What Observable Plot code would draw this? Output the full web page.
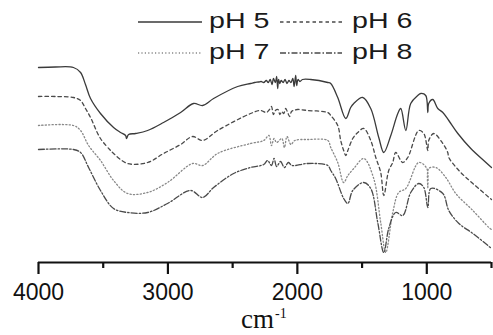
<!DOCTYPE html>
<html>
<head>
<meta charset="utf-8">
<script src="https://cdn.jsdelivr.net/npm/d3@7"></script>
<script src="https://cdn.jsdelivr.net/npm/@observablehq/plot@0.6"></script>
<style>
  html, body { margin: 0; padding: 0; background: #fff; }
  #wrap { width: 493px; height: 335px; position: relative; overflow: hidden; }
  #legend { position: relative; height: 62px; font-family: "Liberation Sans", Arial, sans-serif; font-size: 22px; color: #1a1a1a; }
  #legend .sw { position: absolute; }
  #legend .lb { position: absolute; line-height: 1; white-space: nowrap; transform: scaleX(1.3); transform-origin: 0 50%; }
  #caption { position: absolute; left: 241px; top: 306px; font-family: "Liberation Serif", "Times New Roman", serif; font-size: 27px; line-height: 27px; color: #111; white-space: nowrap; }
  #caption sup { font-size: 14px; line-height: 14px; vertical-align: 0; position: relative; top: -10px; left: 1px; }
</style>
</head>
<body>
<div id="wrap">
  <div id="legend"></div>
  <div id="chart"></div>
  <div id="caption">cm<sup>-1</sup></div>
</div>
<script>
// Wavenumber (cm^-1) and transmittance (arbitrary units)
const series = ["pH 5", "pH 6", "pH 7", "pH 8"];

const wnPH5 = [4000,3870,3730,3675,3637,3598,3521,3420,3366,3327,3320,3304,3250,3157,3034,2902,2802,2732,2647,2461,2361,2330,2300,2280,2260,2240,2225,2210,2195,2185,2170,2160,2152,2145,2135,2125,2110,2095,2080,2065,2050,2035,2025,2013,2005,1995,1980,1960,1897,1765,1742,1688,1626,1588,1564,1495,1433,1371,1332,1278,1224,1201,1162,1124,1070,1046,1008,992,985,954,915,876,830,760,660,560,500];
const tPH5 = [195,195.5,195,190,178,164,149,135,130,127,124,128,129,132,140,150,159,157,164,176,179,180,180.5,181,180,182,180,183,178,184,180,186,174,183,179,182,180,183,179,182,180,184,176,187,177,183,181,183,183,180,179,165,144,155,159,165,154,125,110,127,149,154,132,159,167,169,167,150,159,163,154,150,142,129,114,102,95];

const wnPH6 = [4000,3870,3730,3675,3637,3598,3521,3443,3420,3312,3157,3034,2902,2809,2732,2616,2361,2284,2240,2215,2200,2185,2170,2150,2135,2120,2105,2090,2075,2060,2045,2030,2000,1920,1765,1742,1688,1665,1642,1626,1610,1572,1533,1487,1433,1394,1356,1332,1294,1263,1240,1186,1147,1062,1023,992,985,946,876,838,830,752,644,500];
const tPH6 = [166,166,165,162,154,145,124,112,109,99,100,109,118,126,122,132,149,152,150,153,156,148,152,153,148,151,149,154,150,146,151,152,153,152,150,147,137,122,112,107,112,124,130,134,122,105,90,67,92,100,110,100,105,132,129,112,122,129,119,110,105,92,79,63];

const wnPH7 = [4000,3730,3675,3613,3521,3420,3312,3157,3003,2809,2732,2616,2361,2260,2220,2200,2180,2160,2120,2100,2080,2050,2020,1920,1765,1742,1688,1642,1610,1564,1487,1410,1356,1317,1263,1217,1162,1062,1000,992,985,930,853,776,644,520,500];
const tPH7 = [137,137,132,117,102,82,69,70,80,99,97,109,119,122,127,117,124,120,124,115,126,118,122,123,122,115,100,80,87,94,104,84,40,10,50,70,74,100,94,74,94,95,85,69,52,35,33];

const wnPH8 = [4000,3730,3675,3613,3521,3420,3312,3157,3003,2825,2732,2647,2492,2361,2260,2230,2200,2180,2160,2130,2100,2070,2040,1920,1765,1742,1704,1642,1610,1572,1487,1433,1379,1332,1294,1240,1186,1124,1062,1023,992,969,876,830,752,644,528,500];
const tPH8 = [113,113,110,95,72,54,50,50,59,72,65,75,89,95,98,102,97,104,96,101,95,100,97,99,97,92,84,64,59,72,80,74,40,10,34,50,47,70,79,75,55,74,69,52,39,29,17,14];

const majorTicks = [4000, 3000, 2000, 1000];
const minorTicks = [3500, 2500, 1500, 500];

const styles = [
  {stroke: "#3a3a3a", dash: null, width: 1.3},
  {stroke: "#4a4a4a", dash: "3.5,3", width: 1.3},
  {stroke: "#888", dash: "1.2,2.2", width: 1.3},
  {stroke: "#4a4a4a", dash: "6,2,1.5,2", width: 1.3}
];

const wns = [wnPH5, wnPH6, wnPH7, wnPH8];
const ts = [tPH5, tPH6, tPH7, tPH8];
const tables = wns.map((w, i) => w.map((x, j) => ({wn: x, t: ts[i][j]})));

const chart = Plot.plot({
  width: 493,
  height: 243,
  marginLeft: 38,
  marginRight: 2,
  marginTop: 0,
  marginBottom: 43,
  style: {fontFamily: "'Liberation Sans', Arial, sans-serif", fontSize: "23px", color: "#111", background: "#fff", overflow: "visible"},
  x: {domain: [4000, 500], label: null},
  y: {domain: [0, 200], axis: null},
  marks: [
    ...tables.map((d, i) => Plot.line(d, {
      x: "wn", y: "t",
      curve: "catmull-rom",
      stroke: styles[i].stroke,
      strokeWidth: styles[i].width,
      strokeDasharray: styles[i].dash
    })),
    Plot.ruleY([0], {stroke: "#111", strokeWidth: 2.2}),
    Plot.axisX({ticks: majorTicks, tickSize: 12, tickPadding: 9, strokeWidth: 2.2, stroke: "#111", tickFormat: d => String(d), fontSize: 23}),
    Plot.axisX({ticks: minorTicks, tickSize: 6, strokeWidth: 2.2, stroke: "#111", tickFormat: () => ""})
  ]
});
document.getElementById("chart").appendChild(chart);

// legend
const legend = document.getElementById("legend");
const rows = [
  {y: 22, items: [0, 1]},
  {y: 53, items: [2, 3]}
];
const swX = [138, 280];
const swW = [64, 62];
const lbX = [209, 352];
rows.forEach((row) => {
  row.items.forEach((si, k) => {
    const st = styles[si];
    const sv = d3.create("svg").attr("class", "sw")
      .attr("width", swW[k]).attr("height", 6)
      .style("left", swX[k] + "px").style("top", (row.y - 3) + "px");
    sv.append("line").attr("x1", 0).attr("x2", swW[k]).attr("y1", 3).attr("y2", 3)
      .attr("stroke", st.stroke).attr("stroke-width", st.width)
      .attr("stroke-dasharray", st.dash);
    legend.appendChild(sv.node());
    const lb = document.createElement("div");
    lb.className = "lb";
    lb.textContent = series[si];
    lb.style.left = lbX[k] + "px";
    lb.style.top = (row.y - 12) + "px";
    legend.appendChild(lb);
  });
});
</script>
</body>
</html>
